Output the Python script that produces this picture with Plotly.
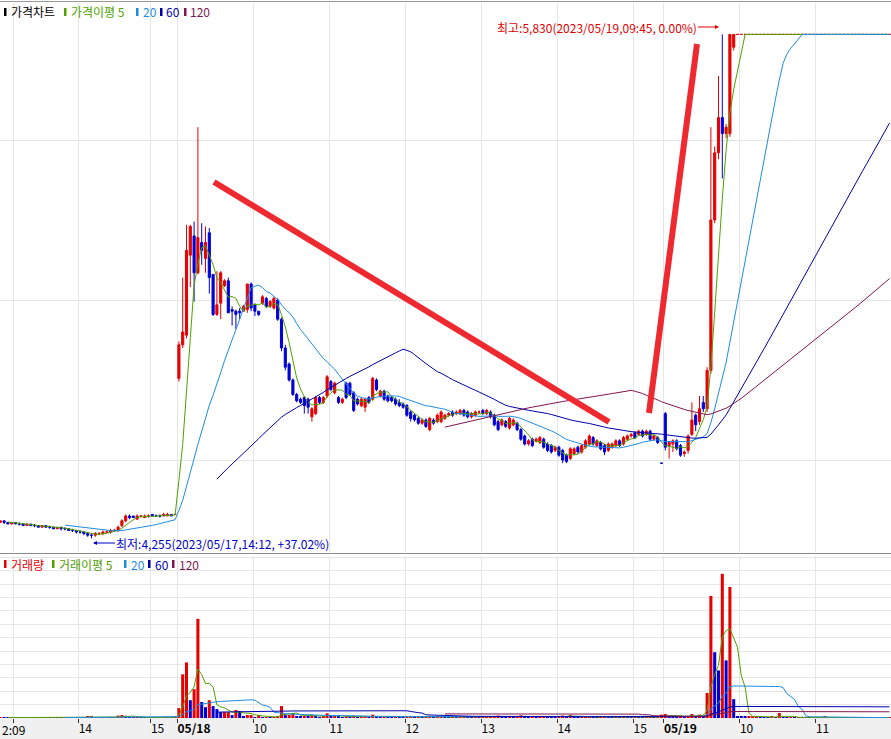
import plotly.graph_objects as go
import pandas as pd

# ---------------- data (3-minute candles, 05/17 12:09 -> 05/19) ----------------
open_ = [
    # 05/17
    4310,4310,4305,4310,4305,4300,4305,4300,4300,4295,4300,4295,4295,4290,4295,4290,4290,4285,4290,4285,
    4285,4280,4280,4275,4275,4270,4265,4265,4270,4270,4275,4275,4280,4280,4295,4310,4325,4325,4315,4325,
    4320,4325,4330,4325,4325,4325,4325,4330,4330,
    # 05/18
    4755,4860,4890,5140,5200,5085,5180,5130,5210,5080,4955,4990,5045,5060,4970,4965,4965,4965,4970,5050,
    4985,4965,4990,5005,4980,4975,5000,4940,4850,4800,4750,4705,4690,4695,4690,4635,4645,4695,4680,4700,
    4745,4710,4695,4680,4740,4740,4710,4690,4670,4665,4695,4690,4750,4700,4715,4700,4695,4690,4680,4675,
    4670,4650,4640,4630,4615,4625,4595,4625,4620,4620,4630,4640,4650,4645,4645,4655,4650,4635,4640,4650,
    4655,4645,4650,4640,4620,4610,4620,4600,4610,4615,4595,4575,4550,4565,4560,4555,4565,4550,4545,4530,
    4540,4530,4515,4505,4520,4540,4525,4540,4550,4570,4545,4555,4545,4530,4540,4545,4560,4550,4565,4575,
    4585,4580,4590,4580,4590,4565,4570,4490,
    # 05/19
    4645,4545,4550,4560,4545,4520,4530,4580,4640,4620,4680,4660,4780,5250,5460,5570,5520,5520,5790,
    5830,5830,5830,5830,5830,5830,5830,5830,5830,5830,5830,5830,5830,5830,5830,5830,5830,5830,5830,5830,
    5830,5830,5830,5830,5830,5830,5830,5830,5830,5830,5830,5830,5830,5830,5830,5830,5830,5830,5830,5830,5830,
]
high_ = [
    4315,4310,4310,4310,4305,4305,4305,4305,4300,4300,4300,4300,4295,4295,4295,4295,4290,4290,4290,4290,
    4285,4285,4280,4280,4275,4275,4270,4275,4275,4280,4280,4285,4285,4295,4315,4330,4330,4325,4330,4325,
    4330,4330,4330,4330,4330,4335,4335,4330,4330,
    4870,5070,5235,5235,5245,5540,5240,5230,5225,5080,5090,5090,5065,5070,4980,4970,4975,4985,5050,5055,
    4990,4965,5015,5010,5000,5010,5005,4945,4860,4805,4755,4710,4695,4700,4695,4665,4700,4700,4700,4765,
    4750,4745,4700,4695,4745,4745,4715,4695,4695,4695,4700,4760,4755,4720,4720,4705,4700,4695,4690,4680,
    4675,4655,4645,4635,4630,4630,4635,4630,4645,4655,4645,4650,4655,4655,4660,4660,4655,4650,4655,4655,
    4660,4660,4655,4645,4625,4630,4625,4635,4630,4620,4600,4580,4565,4570,4570,4575,4570,4555,4550,4545,
    4545,4535,4520,4540,4540,4545,4550,4565,4580,4575,4565,4560,4550,4555,4555,4565,4565,4575,4580,4585,
    4590,4595,4595,4595,4595,4580,4575,4490,
    4650,4560,4565,4565,4550,4530,4580,4680,4645,4700,4700,4790,5540,5480,5700,5830,5550,5830,5830,
    5830,5830,5830,5830,5830,5830,5830,5830,5830,5830,5830,5830,5830,5830,5830,5830,5830,5830,5830,5830,
    5830,5830,5830,5830,5830,5830,5830,5830,5830,5830,5830,5830,5830,5830,5830,5830,5830,5830,5830,5830,5830,
]
low_ = [
    4305,4305,4305,4300,4300,4300,4300,4295,4295,4295,4295,4290,4290,4290,4290,4285,4285,4285,4280,4280,
    4280,4275,4270,4270,4265,4260,4255,4260,4265,4265,4270,4270,4275,4275,4290,4305,4315,4320,4315,4320,
    4320,4320,4325,4325,4320,4325,4325,4325,4330,
    4745,4850,4880,5040,4995,5080,5110,5085,5020,4950,4950,4940,5040,4960,4920,4910,4940,4965,4960,4965,
    4950,4950,4985,4975,4975,4970,4935,4840,4780,4745,4700,4680,4675,4645,4645,4620,4640,4675,4675,4695,
    4715,4705,4675,4675,4690,4700,4650,4670,4665,4650,4675,4685,4715,4695,4685,4680,4680,4670,4665,4660,
    4635,4620,4620,4610,4610,4600,4590,4610,4615,4615,4625,4635,4635,4640,4640,4635,4630,4630,4635,4645,
    4640,4640,4630,4605,4590,4605,4600,4595,4605,4590,4560,4545,4545,4540,4555,4550,4535,4525,4520,4525,
    4510,4490,4490,4500,4515,4520,4520,4535,4545,4545,4540,4530,4515,4525,4535,4540,4540,4545,4560,4570,
    4565,4575,4570,4575,4560,4560,4550,4490,
    4530,4505,4525,4530,4510,4510,4520,4575,4590,4610,4650,4650,4770,5240,5440,5380,5505,5510,5780,
    5830,5830,5830,5830,5830,5830,5830,5830,5830,5830,5830,5830,5830,5830,5830,5830,5830,5830,5830,5830,
    5830,5830,5830,5830,5830,5830,5830,5830,5830,5830,5830,5830,5830,5830,5830,5830,5830,5830,5830,5830,5830,
]
close_ = [
    4310,4305,4310,4305,4300,4305,4300,4300,4295,4300,4295,4295,4290,4295,4290,4290,4285,4290,4285,4285,
    4280,4280,4275,4275,4270,4265,4265,4270,4270,4275,4275,4280,4280,4290,4310,4325,4320,4320,4325,4325,
    4325,4325,4325,4325,4325,4330,4330,4325,4330,
    4860,4900,5155,5230,5085,5195,5155,5180,5070,4955,4985,5085,5060,4960,4965,4955,4960,4980,5050,4975,
    4965,4955,5010,4980,4995,5005,4940,4850,4790,4750,4705,4685,4680,4670,4665,4660,4695,4680,4695,4760,
    4720,4740,4680,4690,4695,4705,4655,4675,4690,4690,4680,4755,4720,4715,4690,4685,4685,4675,4670,4665,
    4640,4630,4625,4615,4625,4605,4630,4615,4640,4650,4640,4645,4640,4650,4655,4640,4635,4645,4650,4650,
    4645,4655,4635,4610,4595,4625,4605,4630,4625,4595,4565,4550,4560,4545,4565,4570,4540,4530,4525,4540,
    4515,4500,4495,4535,4535,4525,4545,4560,4575,4550,4560,4535,4525,4550,4550,4560,4545,4570,4575,4580,
    4570,4590,4575,4590,4565,4575,4555,4490,
    4540,4555,4560,4535,4515,4525,4575,4625,4610,4660,4660,4780,5250,5460,5570,5520,5540,5830,5830,
    5830,5830,5830,5830,5830,5830,5830,5830,5830,5830,5830,5830,5830,5830,5830,5830,5830,5830,5830,5830,
    5830,5830,5830,5830,5830,5830,5830,5830,5830,5830,5830,5830,5830,5830,5830,5830,5830,5830,5830,5830,5830,
]
volume_ = [
    300,200,500,300,200,400,300,200,300,500,200,300,400,200,300,200,500,300,200,300,
    400,300,500,400,600,800,1200,500,400,300,500,400,600,1800,2200,1600,700,500,600,400,
    300,500,400,300,500,600,400,300,800,
    7400,32600,41500,13300,21500,74000,11900,8100,13300,8900,6700,4400,4400,4400,2200,5900,5200,1500,2200,2200,
    700,2200,700,700,500,600,1500,8900,2200,2200,3700,1500,1000,1200,900,2500,1800,700,900,3500,
    1200,1500,800,600,1500,1300,1800,700,900,1100,600,2500,1400,700,900,600,500,700,600,500,
    1200,1400,800,900,600,1000,1600,700,900,1300,600,500,700,500,600,700,600,500,600,400,
    600,700,800,1500,1800,900,700,1400,800,1000,2000,1600,700,900,500,700,1200,1000,900,600,
    1100,1800,1500,2200,900,700,800,1000,1300,800,600,900,1100,900,600,700,600,800,700,600,
    800,700,600,700,1200,600,800,2500,
    3000,1500,1200,1000,1300,800,1500,3000,1500,2500,1800,18700,91100,49100,35500,107600,43000,97800,14100,
    1500,1200,1000,1100,1300,1500,900,700,600,800,500,3700,600,500,700,400,600,500,400,300,
    500,400,300,1200,300,200,300,200,100,200,300,100,200,100,200,100,100,200,100,100,100,
]
tick_index = [6, 23, 42, 49, 69, 89, 109, 129, 149, 169, 177, 197, 217]
tick_text = ["", "14", "15", "<b>05/18</b>", "10", "11", "12", "13", "14", "15", "<b>05/19</b>", "10", "11"]
first_label_visible = "2:09"   # the part of the clipped first time label that shows at the left edge
ma_periods = [5, 20, 60, 120]

# ---------------- styling ----------------
RED = "#e60000"
BLUE = "#0000d2"
MA_COLORS = {5: "#50a000", 20: "#1e8ce1", 60: "#0000aa", 120: "#821450"}
GRID = "#e6e6e6"
FONT = "Noto Sans CJK KR, Noto Sans, sans-serif"
W, H, PLOT_H = 891, 739, 718
PX_PER = 3.8
X0_PX = -7.3


def px_to_i(px):
    return (px - X0_PX) / PX_PER


def py_to_price(py):
    return 5500 - (py - 140) / 0.32


def pxx(px):
    return px / W


def pyy(py):
    return 1 - py / PLOT_H


n = len(close_)
x_idx = list(range(n))

fig = go.Figure()
fig.add_trace(go.Candlestick(
    x=x_idx, open=open_, high=high_, low=low_, close=close_,
    increasing=dict(line=dict(color=RED, width=1), fillcolor=RED),
    decreasing=dict(line=dict(color=BLUE, width=1), fillcolor=BLUE),
    whiskerwidth=0, xaxis="x", yaxis="y", showlegend=False, hoverinfo="skip"))
cs = pd.Series(close_, dtype=float)
for p in ma_periods:
    fig.add_trace(go.Scatter(x=x_idx, y=cs.rolling(p).mean(), mode="lines",
                             line=dict(color=MA_COLORS[p], width=1),
                             xaxis="x", yaxis="y", showlegend=False, hoverinfo="skip"))

vol_colors = [RED if i == 0 or volume_[i] >= volume_[i - 1] else BLUE for i in range(n)]
fig.add_trace(go.Bar(x=x_idx, y=volume_, marker=dict(color=vol_colors, line=dict(width=0)),
                     width=0.8, xaxis="x2", yaxis="y2", showlegend=False, hoverinfo="skip"))
vs = pd.Series(volume_, dtype=float)
for p in ma_periods:
    fig.add_trace(go.Scatter(x=x_idx, y=vs.rolling(p).mean(), mode="lines",
                             line=dict(color=MA_COLORS[p], width=1),
                             xaxis="x2", yaxis="y2", showlegend=False, hoverinfo="skip"))

xr = [px_to_i(0), px_to_i(W)]
tickvals = [t - 0.5 for t in tick_index]
common_x = dict(range=xr, tickvals=tickvals, showgrid=True, gridcolor=GRID, gridwidth=1,
                zeroline=False, showline=False, fixedrange=True)
fig.update_layout(
    width=W, height=H, margin=dict(l=0, r=0, t=0, b=H - PLOT_H),
    paper_bgcolor="white", plot_bgcolor="white", showlegend=False,
    boxgap=0.2,
    xaxis=dict(**common_x, anchor="y", showticklabels=False, ticks="",
               rangeslider=dict(visible=False), domain=[0, 1]),
    xaxis2=dict(**common_x, anchor="y2", matches="x", ticktext=tick_text,
                ticklabelposition="outside right", tickangle=0, ticks="outside", ticklen=4,
                tickcolor="#303030", tickfont=dict(family=FONT, size=12, color="black"),
                domain=[0, 1]),
    yaxis=dict(domain=[pyy(552), pyy(3)], range=[py_to_price(552), py_to_price(3)],
               dtick=500, tick0=0, showticklabels=False, showgrid=True, gridcolor=GRID,
               zeroline=False, fixedrange=True),
    yaxis2=dict(domain=[0, pyy(556)], range=[0, (PLOT_H - 556) / 13.4 * 10000],
                dtick=10000, tick0=0, showticklabels=False, showgrid=True, gridcolor=GRID,
                zeroline=False, fixedrange=True),
)

shapes = []
# label band, separators
shapes.append(dict(type="rect", xref="paper", yref="paper", x0=0, x1=1, y0=pyy(H), y1=pyy(PLOT_H),
                   fillcolor="#f0f0f0", line=dict(width=0), layer="below"))
shapes.append(dict(type="line", xref="paper", yref="paper", x0=0, x1=1, y0=pyy(1.5), y1=pyy(1.5),
                   line=dict(color="#9a9a9a", width=1)))
shapes.append(dict(type="line", xref="paper", yref="paper", x0=0, x1=1, y0=pyy(553.5), y1=pyy(553.5),
                   line=dict(color="#8a8a8a", width=1)))
# hand-drawn trend lines
TREND = "#ee2a30"
shapes.append(dict(type="line", xref="x", yref="y", x0=px_to_i(214), y0=py_to_price(182),
                   x1=px_to_i(609), y1=py_to_price(422), line=dict(color=TREND, width=6)))
shapes.append(dict(type="line", xref="x", yref="y", x0=px_to_i(649), y0=py_to_price(413),
                   x1=px_to_i(697), y1=py_to_price(44), line=dict(color=TREND, width=6)))

annotations = []


def legend_row(items, cy):
    for (mx, color, text, tx) in items:
        shapes.append(dict(type="rect", xref="paper", yref="paper", x0=pxx(mx), x1=pxx(mx + 2.5),
                           y0=pyy(cy + 4), y1=pyy(cy - 4), fillcolor=color, line=dict(width=0)))
        annotations.append(dict(xref="paper", yref="paper", x=pxx(tx), y=pyy(cy), text=text,
                                showarrow=False, xanchor="left", yanchor="middle", borderpad=0,
                                font=dict(family=FONT, size=12, color=color)))


legend_row([(4, "#000000", "가격차트", 10), (64, MA_COLORS[5], "가격이평 5", 70),
            (136, MA_COLORS[20], "20", 142), (160, MA_COLORS[60], "60", 165),
            (184, MA_COLORS[120], "120", 189)], 12)
legend_row([(4, RED, "거래량", 10), (52, MA_COLORS[5], "거래이평 5", 58),
            (124, MA_COLORS[20], "20", 130), (148, MA_COLORS[60], "60", 154),
            (172, MA_COLORS[120], "120", 178)], 564)

annotations.append(dict(xref="x", yref="y", x=px_to_i(719), y=py_to_price(27), ax=-21, ay=0,
                        text="최고:5,830(2023/05/19,09:45, 0.00%)", showarrow=True, arrowhead=2,
                        arrowsize=0.8, arrowwidth=1, arrowcolor="#e00000", xanchor="right",
                        borderpad=0, font=dict(family=FONT, size=12, color="#e00000")))
annotations.append(dict(xref="x", yref="y", x=px_to_i(93), y=py_to_price(543), ax=22, ay=0,
                        text="최저:4,255(2023/05/17,14:12, +37.02%)", showarrow=True, arrowhead=2,
                        arrowsize=0.8, arrowwidth=1, arrowcolor="#0000c8", xanchor="left",
                        borderpad=0, font=dict(family=FONT, size=12, color="#0000c8")))
annotations.append(dict(xref="paper", yref="paper", x=pxx(1), y=pyy(729),
                        text=first_label_visible, showarrow=False, xanchor="left", yanchor="middle",
                        borderpad=0, font=dict(family=FONT, size=12, color="black")))

fig.update_layout(shapes=shapes, annotations=annotations)
fig.write_html("out.html", config={"displayModeBar": False},
               post_script="document.body.style.margin='0';document.body.style.overflow='hidden';")
